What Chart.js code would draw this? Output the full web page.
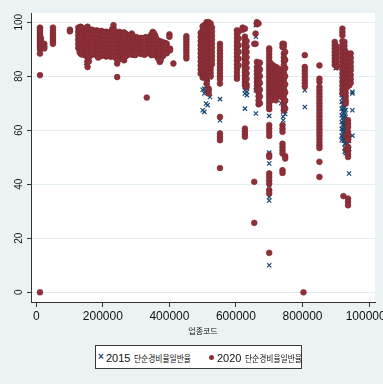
<!DOCTYPE html>
<html>
<head>
<meta charset="utf-8">
<script src="https://cdn.jsdelivr.net/npm/chart.js@4.4.1/dist/chart.umd.min.js"></script>
<style>
  html, body { margin: 0; padding: 0; background: #EAF2F3; }
  #wrap { position: relative; width: 383px; height: 384px; overflow: hidden; }
  #chart { position: absolute; left: 0; top: 0; }
  #legend { position: absolute; left: 95px; top: 345px; width: 207px; height: 24px;
            box-sizing: border-box; border: 1px solid #3a3a3a; background: #fff; }
  .mk { position: absolute; }
  .mk.cross { font: bold 10px "Liberation Sans", sans-serif; color: #1A476F; line-height: 10px; }
  .mk.dot { width: 5px; height: 5px; border-radius: 50%; background: #8F2F38; }
  .lab { position: absolute; white-space: nowrap; color: #111; line-height: 14px; }
  .lab .yr { font: 11px "Liberation Sans Narrow", "Liberation Sans", sans-serif; }
  .lab .ko { display: inline-block; font: 9px "Noto Sans CJK KR", sans-serif;
             transform: scaleX(0.86); transform-origin: left center; }
</style>
</head>
<body>
<div id="wrap">
  <canvas id="chart" width="383" height="384"></canvas>
  <div id="legend"></div>
</div>
<script>
// 업종코드별 단순경비율 일반율 (2015, 2020)
const codes2020 = [
  11000, 14000, 24000, 50000, 101000,
  126000, 133000, 140000, 147000, 154000, 161000, 168000, 175000, 182000, 189000,
  196000, 203000, 210000, 217000, 224000, 232000, 239000, 243000, 250000, 257000,
  264000, 271000, 278000, 287000, 294000, 301000, 308000, 315000, 322000, 329000,
  332000, 336000, 343000, 350000, 357000, 364000, 371000, 378000, 385000, 392000,
  400000, 402000, 412000, 451000,
  494000, 500000, 506000, 512000, 518000, 524000, 528000, 552000,
  603000, 608000, 620000, 627000, 632000,
  655000, 659000, 663000, 668000, 672000,
  700000, 705000, 712000, 720000, 728000, 736000, 740000, 744000, 748000,
  803000, 807000, 851000,
  897000, 903000, 920000, 923000, 926000, 930000, 932000, 934000, 937000, 940000, 945000,
  // 제조업 구간 (130000~390000)
  130000, 137000, 144000, 151000, 158000, 165000, 172000, 179000, 186000, 193000,
  200000, 207000, 214000, 221000, 228000, 235000, 246000, 253000, 260000, 267000,
  274000, 282000, 290000, 297000, 304000, 311000, 318000, 325000, 339000, 346000,
  353000, 360000, 367000, 374000, 381000, 388000
];
const rates2020 = [
  [98, 97.5, 96.8, 96, 95.2, 94.5, 93.8, 93, 92.3, 91.5, 90.8, 90, 88.4, 80.4, 0],
  [94, 93, 92.2, 91.4, 90.6],
  [92, 91, 90.3],
  [98, 97, 96, 95.2, 94.4, 93.6, 92.8, 92],
  [97.2, 96.6],
  [98, 96.5, 95, 93.5, 92, 90.5],
  [98.3, 97.2, 95.8, 94.5, 93, 91.5, 90, 88.4],
  [97.6, 96.3, 95, 93.8, 92.5, 91.2, 89.8, 88.2],
  [97, 95.8, 94.5, 93.2, 92, 90.6, 89.3, 87.8],
  [98.3, 97, 95.5, 94, 92.6, 91.3, 90, 88.5, 86.8, 85.2, 83.4],
  [96.8, 95.5, 94, 92.8, 91.5, 90.2, 88.8, 87.5],
  [97.2, 95.9, 94.6, 93.3, 92, 90.7, 89.4, 88],
  [96.5, 95.2, 93.8, 92.5, 91.2, 90, 88.6],
  [97, 95.6, 94.2, 93, 91.7, 90.3, 89, 87.6],
  [96.3, 95, 93.7, 92.4, 91, 89.8, 88.5],
  [96.8, 95.5, 94.2, 92.9, 91.6, 90.3, 89, 87.5],
  [96, 94.8, 93.5, 92.2, 90.9, 89.6, 88.2],
  [96.5, 95.2, 93.9, 92.6, 91.3, 90, 88.7, 87.3],
  [95.8, 94.5, 93.2, 91.9, 90.6, 89.3, 88],
  [96.4, 95.1, 93.8, 92.5, 91.2, 89.9, 88.6, 87.2],
  [98.9, 97.5, 96, 94.6, 93.3, 92, 90.7, 89.4, 88],
  [96, 94.7, 93.4, 92.1, 90.8, 89.5, 88.2, 86.8],
  [95.5, 93, 90.5, 88, 86.2, 84.7, 79.7],
  [96.4, 95, 93.6, 92.3, 91, 89.7, 88.3, 86.9],
  [95.8, 94.4, 93.1, 91.8, 90.5, 89.2, 87.8],
  [96.2, 94.9, 93.6, 92.3, 91, 89.7, 88.4, 87, 85.9],
  [95.5, 94.2, 92.9, 91.6, 90.3, 89, 87.6],
  [94.8, 93.5, 92.2, 90.9, 89.6, 88.3],
  [95.8, 94.5, 93.2, 91.9, 90.6, 89.3, 88],
  [94, 92.8, 91.6, 90.4, 89.2, 88],
  [94.5, 93.3, 92, 90.8, 89.6, 88.3],
  [93.6, 92.4, 91.2, 90, 88.8],
  [94.2, 93, 91.8, 90.6, 89.4, 88.2],
  [93.8, 92.6, 91.4, 90.2, 89],
  [94.5, 93.2, 92, 90.8, 89.5, 88.3],
  [72.1],
  [93.5, 92.3, 91.1, 89.9, 88.7],
  [94.8, 93.5, 92.2, 91, 89.8, 88.5],
  [96.4, 95, 93.7, 92.4, 91.1, 89.9, 88.6],
  [95.2, 93.9, 92.6, 91.3, 90, 88.8],
  [93.2, 92, 90.8, 89.6, 88.4, 87.2],
  [93, 91.8, 90.6, 89.3, 88, 86.6, 85.3],
  [92.6, 91.4, 90.2, 89, 87.8],
  [92.3, 91.2, 90, 88.8],
  [92, 90.8, 89.6, 88.5],
  [95.5, 94.6],
  [90.2, 89.6],
  [84.7],
  [94.8, 93.8, 92.8, 91.8, 90.8, 89.8, 88.8, 87.6, 86.6],
  [96, 94.5, 93, 91.5, 90, 88.5, 87, 85.5, 84, 82.5, 81],
  [98.5, 97.2, 96, 94.8, 93.5, 92.2, 91, 89.7, 88.4, 87.1, 85.8, 84.5, 83.2, 81.9, 80.6, 79.5],
  [99, 97.8, 96.5, 95.2, 94, 92.7, 91.4, 90.1, 88.8, 87.5, 86.2, 84.9, 83.6, 82.3, 81, 79.8],
  [100, 99, 97.8, 96.6, 95.4, 94.2, 93, 91.7, 90.4, 89.1, 87.8, 86.5, 85.2, 83.9, 82.6, 81.3, 80, 78.7, 77.3],
  [100, 99.2, 98, 96.8, 95.6, 94.3, 93, 91.7, 90.4, 89.1, 87.8, 86.5, 85.2, 83.9, 82.6, 81.3, 80, 75.4, 74.8, 73.6],
  [99.5, 98.2, 96.9, 95.6, 94.3, 93, 91.7, 90.4, 89.1, 87.8, 86.5, 85.2, 83.9, 82.6, 81.3, 80],
  [98, 96.5, 95, 93.5, 92, 90.5, 89, 87.5, 86, 84.5],
  [92, 90.8, 89.6, 88.4, 87.2, 86, 84.8, 83.6, 82.4, 81.2, 80, 79, 77.3, 64.9, 58.8, 57.5, 56.3, 46],
  [97, 95.6, 94.2, 92.8, 91.4, 90, 88.6, 87.2, 85.8, 84.4, 83, 81.6, 80.2, 79.1],
  [96.5, 94, 91.5, 89, 86.5, 84],
  [98, 97.2],
  [97.6, 94.6, 93.4, 92.2, 91, 89.8, 88.6, 87.4, 86.2, 85, 83.8, 82.6, 81.4, 80.2, 79, 77.8, 76.6, 60.6, 59.5, 58.5, 57.6],
  [93, 91, 89, 87, 85, 83, 81, 79, 77, 76],
  [92, 40.9, 25.7],
  [95.8, 92],
  [100, 99.3, 85.3, 83.4, 82, 80.6, 79.2, 77.8, 76.4, 75],
  [99.5, 84.5, 83, 81.5, 80, 78.5, 77, 75.5, 74, 72.5, 71, 69.6],
  [85, 82.5, 80, 77.5, 75, 72.5, 70],
  [90.3, 89.4, 88.2, 87, 85.8, 84.6, 83.4, 82.2, 81, 79.8, 78.6, 77.4, 76.2, 75, 73.8, 72.6, 71.4, 70.2, 69, 67.8, 61.9, 60.6, 59.3, 57.9, 50.9, 50.1, 44, 42.7, 41.4, 40.2, 37.8, 36.6, 14.6],
  [84.7, 83, 81.5, 80, 78.5, 77, 75.5, 74, 72.5, 71],
  [84, 82.6, 81.2, 79.8, 78.4, 77, 75.6, 74.2, 72.8],
  [83.4, 82, 80.6, 79.2, 77.8, 76.4, 75, 73.6, 72.2, 71.1],
  [82.8, 81.3, 79.8, 78.3, 76.8, 75.3, 73.8],
  [82, 80.4, 78.8, 77.2, 75.6, 74, 72.4],
  [92, 90.8, 61.9, 60.6, 59.4, 55, 53.8, 52.6, 51.4, 45.2, 44.2],
  [92, 90.9, 88.4, 87, 85.6, 84.2, 82.8, 81.4, 80, 78.6, 77.2, 75.8, 74.4, 73, 71.6, 70.2, 68.8, 67.4],
  [89, 86, 83, 80, 77, 74, 71, 68, 50.4, 49.5],
  [0],
  [87.8, 83.4, 82.2, 81, 79.8, 78.6, 77.4, 76.2],
  [84, 79.1, 77.9, 76, 74.8, 73.6, 72.4, 71.2, 70, 68.8, 67.6, 66.4, 65.2, 64, 62.8, 61.6, 60.4, 59.2, 58, 56.8, 55.6, 54.4, 53.4, 48.3, 42.7],
  [92.7, 91.5, 90.3, 89, 87.8, 86.6, 85.4, 84.2],
  [91, 89.6, 88.2, 86.8, 85.4, 84, 83.4],
  [97.6, 96.4, 95.2, 93, 91.5, 90, 88.5, 87, 85.5, 84, 82.5, 81, 79.5, 78, 76.5, 75, 73.6],
  [35.6],
  [92.7, 91.4, 90.1, 88.8, 87.5, 86.2, 84.9, 83.6, 82.3, 81, 79.7, 78.4, 77.1, 75.8, 74.5],
  [89, 87.5, 86, 84.5, 83, 81.5, 80, 78.5, 77, 75.5, 74, 72.5, 71, 69.9],
  [58, 53],
  [85, 83.5, 82, 80.5, 79, 77.5, 76],
  [63.7, 62.4, 61.2, 59.4, 58.2, 57, 56.3, 53.8, 52.5, 51.2, 50.1, 34.7, 33.5, 32.2],
  [87.8, 86.4, 85, 83.6, 82.2, 80.8, 79.4, 78, 76.6],
  [88.4, 86.8, 85.2, 83.6, 82.2, 80.5, 79, 77.5],
  [97.8, 96.2, 94.8, 93.2, 91.8, 90.2, 89],
  [98, 96.6, 95.2, 93.7, 92.3, 90.8, 89.4, 88],
  [97.3, 95.9, 94.4, 93, 91.6, 90.2, 88.7],
  [97.8, 96.4, 95, 93.5, 92.1, 90.7, 89.2, 87.8],
  [97.2, 95.8, 94.3, 92.9, 91.5, 90.1, 88.6, 87.2, 85.5],
  [97, 95.6, 94.2, 92.7, 91.3, 89.9, 88.4],
  [96.8, 95.4, 94, 92.6, 91.2, 89.8, 88.3],
  [96.6, 95.2, 93.8, 92.4, 91, 89.6, 88.2],
  [96.6, 95.3, 93.9, 92.5, 91.1, 89.7, 88.2, 86.9],
  [96.4, 95, 93.6, 92.2, 90.8, 89.4, 88],
  [96.3, 94.9, 93.5, 92.1, 90.7, 89.3, 87.9],
  [96.2, 94.8, 93.4, 92, 90.6, 89.2, 87.8],
  [96, 94.6, 93.2, 91.8, 90.4, 89, 87.6],
  [96.1, 94.7, 93.3, 91.9, 90.5, 89.1, 87.7],
  [97.4, 96, 94.6, 93.2, 91.8, 90.4, 89, 87.6],
  [97, 95.6, 94.2, 92.8, 91.4, 90, 88.6, 87.2],
  [95.8, 94.4, 93, 91.6, 90.2, 88.8, 87.4, 86],
  [96, 94.6, 93.2, 91.8, 90.4, 89, 87.6],
  [96, 94.6, 93.2, 91.8, 90.4, 89, 87.6, 86.3],
  [95.8, 94.4, 93, 91.6, 90.2, 88.8, 87.4],
  [95, 93.6, 92.2, 90.8, 89.4, 88],
  [95.2, 93.8, 92.4, 91, 89.6, 88.2],
  [95, 93.6, 92.2, 90.8, 89.4, 88],
  [94.2, 92.9, 91.6, 90.3, 89, 87.8],
  [94, 92.7, 91.4, 90.1, 88.8],
  [93.8, 92.6, 91.3, 90, 88.7],
  [94, 92.7, 91.4, 90.1, 88.8],
  [94.2, 92.9, 91.6, 90.3, 89, 87.9],
  [94, 92.7, 91.4, 90.1, 88.8],
  [95.5, 94.2, 92.9, 91.6, 90.3, 89, 87.8],
  [96, 94.6, 93.3, 92, 90.7, 89.4, 88.1],
  [94.2, 92.9, 91.6, 90.3, 89, 87.7],
  [93, 91.8, 90.5, 89.2, 87.9, 86.5],
  [92.8, 91.5, 90.2, 88.9, 87.6, 86],
  [92.4, 91.2, 90, 88.7, 87.5],
  [92.2, 91, 89.8, 88.6]
];

const codes2015 = [
  11000, 50000, 101000,
  135000, 150000, 165000, 180000, 195000, 210000, 225000, 240000, 255000, 270000,
  285000, 300000, 315000, 330000, 345000, 360000, 375000, 390000, 401000, 451000,
  500000, 505000, 510000, 515000, 522000, 552000,
  605000, 627000, 633000, 660000, 670000,
  700000, 716000, 726000, 736000, 742000, 748000,
  807000, 851000,
  900000, 918000, 921000, 924000, 927000, 930000, 933000, 940000, 950000
];
const rates2015 = [
  [96.5, 93.5, 91, 0],
  [96.5, 93.5],
  [96.8],
  [97, 94, 91, 89],
  [96.5, 93, 89.5, 85],
  [96, 92.5, 89],
  [95.5, 92, 88.8],
  [96, 92.8, 89.5],
  [95.2, 91.8, 88.5],
  [95.8, 92.5, 89],
  [95, 91.5, 87.5],
  [94.8, 91.2, 88.2],
  [94.5, 91, 88.5],
  [93.8, 90.5, 88.4],
  [93.5, 90.2, 88.6],
  [93.2, 90.4, 88.8],
  [93.6, 90.6, 88.9],
  [94.2, 91, 88.6],
  [93, 90, 87.8],
  [92, 89.5, 87],
  [91.8, 89.2],
  [95],
  [93.5, 90.5, 88],
  [96, 91, 86, 82, 75, 67.4],
  [97, 92, 87, 83, 75.4, 66.8, 73.6],
  [98, 93, 88, 84, 76.3, 69.9, 74.4],
  [97, 92, 87, 81, 79.1, 69.3, 77.5],
  [96, 90, 85, 79.5, 72.3],
  [88, 82, 71.5, 63.7],
  [94, 88, 83],
  [90, 84, 76, 74.8, 73.6, 68],
  [75.8, 74.2, 73],
  [98.9, 94.6, 74.8, 66.2],
  [81.2, 78.5],
  [85, 79, 74.8, 72, 65.3, 51.7, 47.7, 39.6, 35.3, 34, 10],
  [80, 76.5, 74],
  [78, 75, 72.5],
  [76, 72.8, 70],
  [77.3, 75.5, 73.8, 72, 70.3, 68.5, 66.8, 65, 63.7],
  [74.5, 69.5, 66],
  [77.9, 74.8, 68.6],
  [72, 66, 60, 59.4],
  [85.9, 83],
  [73, 70.5, 68, 65.5, 63, 60.5, 58, 56.3],
  [74.5, 72, 69.5, 67, 64.5, 62, 59.5, 57],
  [74, 72.5, 71, 69.5, 68, 66.5, 65, 63.5, 62, 60.5, 59, 57.5, 56],
  [73, 71.5, 70, 68.5, 67, 65.5, 64, 62.5, 61, 59.5, 58, 56.5, 55, 53.5, 52],
  [72, 70, 67.5, 65, 62.5, 60, 57.5, 55, 52.5, 51.5],
  [63, 60.5, 58, 55.5],
  [56, 53, 44],
  [74.2, 73.6, 67.4, 58]
];

const xTickValues = [0, 200000, 400000, 600000, 800000, 1000000];
const yTickValues = [0, 20, 40, 60, 80, 100];
const seriesYears = ['2015', '2020'];
const seriesName = '단순경비율일반율';
const xTitle = '업종코드';

const NAVY = '#1A476F';
const CRANBERRY = '#8F2F38';

function toPoints(codes, rates) {
  return codes.flatMap((code, i) => rates[i].map(rate => ({ x: code, y: rate })));
}

// white plot region on the tinted page
const plotBackground = {
  id: 'plotBackground',
  beforeDraw(chart) {
    const { ctx, chartArea: a } = chart;
    ctx.save();
    ctx.fillStyle = '#ffffff';
    ctx.fillRect(a.left, a.top, a.right - a.left, a.bottom - a.top);
    ctx.restore();
  }
};

new Chart(document.getElementById('chart'), {
  type: 'scatter',
  data: {
    datasets: [
      {
        label: seriesYears[0] + ' ' + seriesName,
        data: toPoints(codes2015, rates2015),
        order: 1,
        pointStyle: 'crossRot',
        pointRadius: 3,
        borderColor: NAVY,
        backgroundColor: NAVY,
        borderWidth: 1.2
      },
      {
        label: seriesYears[1] + ' ' + seriesName,
        data: toPoints(codes2020, rates2020),
        order: 0,
        pointStyle: 'circle',
        pointRadius: 2.9,
        backgroundColor: CRANBERRY,
        borderColor: '#7B2A33',
        borderWidth: 0.6
      }
    ]
  },
  options: {
    responsive: false,
    animation: false,
    events: [],
    layout: { autoPadding: false, padding: { left: 0, top: 13, right: 8, bottom: 46 } },
    plugins: { legend: { display: false }, tooltip: { enabled: false } },
    scales: {
      x: {
        type: 'linear',
        min: -16000,
        max: 1018000,
        afterBuildTicks: s => { s.ticks = xTickValues.map(v => ({ value: v })); },
        afterFit: s => { s.height = 36; s.paddingLeft = 0; s.paddingRight = 0; },
        grid: { drawOnChartArea: false, tickLength: 5, tickColor: '#333', tickWidth: 1 },
        border: { color: '#333', width: 1 },
        ticks: {
          autoSkip: false, maxRotation: 0, padding: 2, color: '#111',
          font: { family: '"Liberation Sans Narrow", "Liberation Sans", sans-serif', size: 12 },
          callback: v => String(v)
        },
        title: {
          display: true, text: xTitle, color: '#111',
          font: { family: '"Noto Sans CJK KR", sans-serif', size: 8 },
          padding: { top: 0, bottom: 2 }
        }
      },
      y: {
        type: 'linear',
        min: -3.6,
        max: 103.4,
        afterBuildTicks: s => { s.ticks = yTickValues.map(v => ({ value: v })); },
        afterFit: s => { s.width = 31; s.paddingTop = 0; s.paddingBottom = 0; },
        grid: { color: '#E3ECEF', lineWidth: 1, tickLength: 4, tickColor: '#333' },
        border: { color: '#333', width: 1 },
        ticks: {
          minRotation: 90, maxRotation: 90, crossAlign: 'center', padding: -1, color: '#111',
          font: { family: '"Liberation Sans", sans-serif', size: 10 }
        }
      }
    }
  },
  plugins: [plotBackground]
});

// legend box
(function buildLegend() {
  const box = document.getElementById('legend');
  const items = [
    { marker: 'cross', mx: 2, tx: 10 },
    { marker: 'dot', mx: 113, tx: 121 }
  ];
  items.forEach((it, i) => {
    const m = document.createElement('div');
    m.className = 'mk ' + it.marker;
    if (it.marker === 'cross') {
      m.textContent = '×';
      m.style.left = it.mx + 'px';
      m.style.top = '6px';
    } else {
      m.style.left = it.mx + 'px';
      m.style.top = '9px';
    }
    box.appendChild(m);
    const t = document.createElement('div');
    t.className = 'lab';
    t.style.left = it.tx + 'px';
    t.style.top = '4px';
    t.innerHTML = '<span class="yr">' + seriesYears[i] + '</span> <span class="ko">' + seriesName + '</span>';
    box.appendChild(t);
  });
})();
</script>
</body>
</html>
